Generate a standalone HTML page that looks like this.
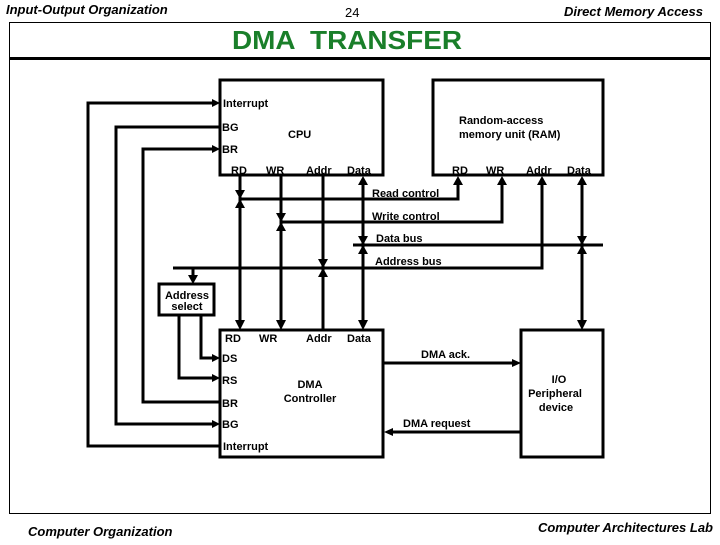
<!DOCTYPE html>
<html><head><style>
body{margin:0;background:#fff;}
svg text{font-family:"Liberation Sans",sans-serif;font-weight:bold;font-size:11px;fill:#000;}
</style></head><body>
<svg width="720" height="540" viewBox="0 0 720 540" xmlns="http://www.w3.org/2000/svg">
<text x="6" y="14" style="font-style:italic;font-size:13px">Input-Output Organization</text>
<text x="345" y="17" style="font-weight:normal;font-size:13px">24</text>
<text x="703" y="16" text-anchor="end" style="font-style:italic;font-size:13px">Direct Memory Access</text>
<rect x="9.5" y="22.5" width="701" height="491" fill="none" stroke="#000" stroke-width="1"/>
<rect x="9" y="57" width="702" height="3" fill="#000"/>
<text x="232" y="49" textLength="230" lengthAdjust="spacingAndGlyphs" style="font-size:26px;fill:#1a7f2a;white-space:pre">DMA  TRANSFER</text>
<text x="713" y="532" text-anchor="end" style="font-style:italic;font-size:13px">Computer Architectures Lab</text>
<text x="28" y="536" style="font-style:italic;font-size:13px">Computer Organization</text>

<g fill="none" stroke="#000" stroke-width="3">
<rect x="220" y="80" width="163" height="95"/>
<rect x="433" y="80" width="170" height="95"/>
<rect x="220" y="330" width="163" height="127"/>
<rect x="521" y="330" width="82" height="127"/>
<rect x="159" y="284" width="55" height="31"/>
<polyline points="215,103 88,103 88,446 220,446"/>
<polyline points="220,127 116,127 116,424 215,424"/>
<polyline points="215,149 143,149 143,402 220,402"/>
<polyline points="201,315 201,358 215,358"/>
<polyline points="179,315 179,378 215,378"/>
<line x1="240" y1="175" x2="240" y2="325"/>
<line x1="281" y1="175" x2="281" y2="325"/>
<line x1="323" y1="175" x2="323" y2="330"/>
<line x1="363" y1="180" x2="363" y2="325"/>
<polyline points="240,199 458,199 458,180"/>
<polyline points="281,222 502,222 502,180"/>
<line x1="353" y1="245" x2="603" y2="245"/>
<polyline points="173,268 542,268 542,180"/>
<line x1="582" y1="180" x2="582" y2="325"/>
<line x1="193" y1="268" x2="193" y2="280"/>
<line x1="383" y1="363" x2="516" y2="363"/>
<line x1="388" y1="432" x2="521" y2="432"/>
</g>
<g fill="#000">
<polygon points="220,103 212,99 212,107"/>
<polygon points="220,149 212,145 212,153"/>
<polygon points="220,358 212,354 212,362"/>
<polygon points="220,378 212,374 212,382"/>
<polygon points="220,424 212,420 212,428"/>
<polygon points="240,199 235,190 245,190"/><polygon points="240,199 235,208 245,208"/>
<polygon points="281,222 276,213 286,213"/><polygon points="281,222 276,231 286,231"/>
<polygon points="363,245 358,236 368,236"/><polygon points="363,245 358,254 368,254"/>
<polygon points="582,245 577,236 587,236"/><polygon points="582,245 577,254 587,254"/>
<polygon points="323,268 318,259 328,259"/><polygon points="323,268 318,277 328,277"/>
<polygon points="363,176 358,185 368,185"/>
<polygon points="458,176 453,185 463,185"/>
<polygon points="502,176 497,185 507,185"/>
<polygon points="542,176 537,185 547,185"/>
<polygon points="582,176 577,185 587,185"/>
<polygon points="240,330 235,320 245,320"/>
<polygon points="281,330 276,320 286,320"/>
<polygon points="363,330 358,320 368,320"/>
<polygon points="582,330 577,320 587,320"/>
<polygon points="193,284 188,275 198,275"/>
<polygon points="521,363 512,359 512,367"/>
<polygon points="384,432 393,428 393,436"/>
</g>
<text x="223" y="107">Interrupt</text>
<text x="222" y="131">BG</text>
<text x="222" y="153">BR</text>
<text x="288" y="138">CPU</text>
<text x="231" y="174">RD</text>
<text x="266" y="174">WR</text>
<text x="306" y="174">Addr</text>
<text x="347" y="174">Data</text>
<text x="459" y="124">Random-access</text>
<text x="459" y="138">memory unit (RAM)</text>
<text x="452" y="174">RD</text>
<text x="486" y="174">WR</text>
<text x="526" y="174">Addr</text>
<text x="567" y="174">Data</text>
<text x="372" y="197">Read control</text>
<text x="372" y="220">Write control</text>
<text x="376" y="242">Data bus</text>
<text x="375" y="265">Address bus</text>
<text x="187" y="299" text-anchor="middle">Address</text>
<text x="187" y="310" text-anchor="middle">select</text>
<text x="225" y="342">RD</text>
<text x="259" y="342">WR</text>
<text x="306" y="342">Addr</text>
<text x="347" y="342">Data</text>
<text x="222" y="362">DS</text>
<text x="222" y="384">RS</text>
<text x="222" y="407">BR</text>
<text x="222" y="428">BG</text>
<text x="223" y="450">Interrupt</text>
<text x="310" y="388" text-anchor="middle">DMA</text>
<text x="310" y="402" text-anchor="middle">Controller</text>
<text x="421" y="358">DMA ack.</text>
<text x="403" y="427">DMA request</text>
<text x="559" y="383" text-anchor="middle">I/O</text>
<text x="555" y="397" text-anchor="middle">Peripheral</text>
<text x="556" y="411" text-anchor="middle">device</text>
</svg>
</body></html>
